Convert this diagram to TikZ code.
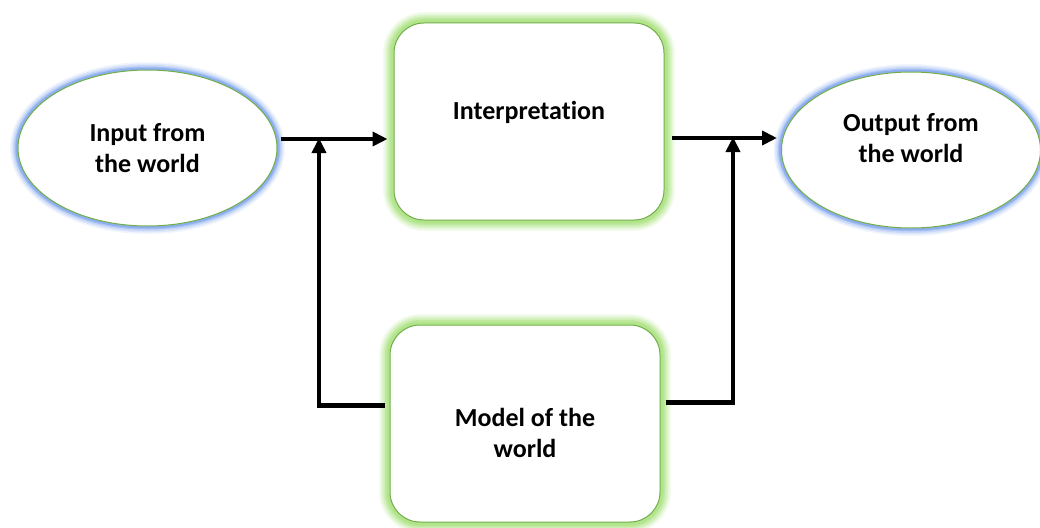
\documentclass[tikz,border=0pt]{standalone}
\usepackage{fontspec}
\setmainfont{Carlito}[Ligatures=NoCommon]
\usetikzlibrary{arrows.meta,shapes.geometric}

\definecolor{edgegreen}{RGB}{112,173,71}
\definecolor{glowgreen}{RGB}{165,224,120}
\definecolor{glowblue}{RGB}{115,155,235}

% soft outer halo built from stacked translucent strokes
\tikzset{
  glowg/.style={
    preaction={draw=glowgreen,line width=22pt,opacity=0.12},
    preaction={draw=glowgreen,line width=19pt,opacity=0.15},
    preaction={draw=glowgreen,line width=16pt,opacity=0.2},
    preaction={draw=glowgreen,line width=13pt,opacity=0.25},
    preaction={draw=glowgreen,line width=10pt,opacity=0.35},
    preaction={draw=glowgreen,line width=7pt,opacity=0.5}},
  glowb/.style={
    preaction={draw=glowblue,line width=16pt,opacity=0.1},
    preaction={draw=glowblue,line width=13pt,opacity=0.15},
    preaction={draw=glowblue,line width=10pt,opacity=0.22},
    preaction={draw=glowblue,line width=7pt,opacity=0.35},
    preaction={draw=glowblue,line width=5pt,opacity=0.5}},
  stepbox/.style={glowg,draw=edgegreen,line width=1pt,fill=white,
    rounded corners=30pt,minimum width=270pt,minimum height=197pt,
    inner sep=0pt},
  worldoval/.style={glowb,ellipse,draw=edgegreen,line width=1pt,fill=white,
    minimum width=259pt,minimum height=156pt,inner sep=0pt},
  tx/.style={font=\fontsize{26}{31}\selectfont\bfseries,align=center,
    text=black,inner sep=0pt},
  arr/.style={line width=4.8pt,-{Triangle[length=15pt,width=14pt]}}
}

\begin{document}
\begin{tikzpicture}[x=1pt,y=-1pt]
\useasboundingbox (0,0) rectangle (1040,527);

% shapes
\node[worldoval] (in)  at (147.5,148) {};
\node[worldoval] (out) at (911,150) {};
\node[stepbox] (interp) at (529,121.5) {};
\node[stepbox] (model)  at (525,423.5) {};

% labels
\node[tx] (tin)  at (in.center) {Input from\\the world};
\node[tx] (tout) at ([yshift=12pt]out.center) {Output from\\the world};
\node[tx] (tint) at ([yshift=9pt]interp.center) {Interpretation};
\node[tx] (tmod) at ([yshift=-9pt]model.center) {Model of the\\world};

% junction points where feedback meets the main line
\coordinate (jl) at (319,139);
\coordinate (jr) at (733,138);

% main line
\draw[arr,shorten <=3pt,shorten >=6pt] (jl -| in.east) -- (jl -| interp.west);
\draw[arr,shorten <=7pt,shorten >=4pt] (jr -| interp.east) -- (jr -| out.west);

% feedback from the world model
\draw[arr,line join=miter,shorten <=5pt,shorten >=-1pt]
  ([yshift=18pt]model.west) -| (jl);
\draw[arr,line join=miter,shorten <=5pt,shorten >=-1pt]
  ([yshift=21pt]model.east) -| (jr);
\end{tikzpicture}
\end{document}
